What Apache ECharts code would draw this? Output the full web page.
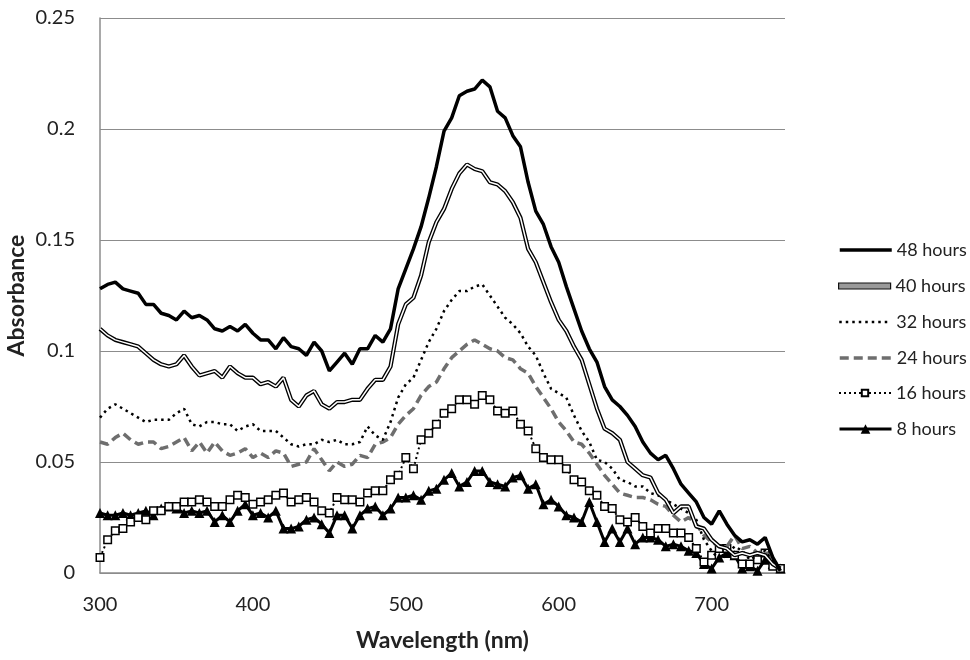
<!DOCTYPE html>
<html>
<head>
<meta charset="utf-8">
<script src="https://cdn.jsdelivr.net/npm/echarts@6/dist/echarts.min.js"></script>
<style>
html,body{margin:0;padding:0;background:#fff;}
#chart{width:970px;height:660px;}
</style>
</head>
<body>
<div id="chart"></div>
<script>
const wavelengths = [
  300,305,310,315,320,325,330,335,340,345,
  350,355,360,365,370,375,380,385,390,395,
  400,405,410,415,420,425,430,435,440,445,
  450,455,460,465,470,475,480,485,490,495,
  500,505,510,515,520,525,530,535,540,545,
  550,555,560,565,570,575,580,585,590,595,
  600,605,610,615,620,625,630,635,640,645,
  650,655,660,665,670,675,680,685,690,695,
  700,705,710,715,720,725,730,735,740,745
];
const seriesNames = ['48 hours','40 hours','32 hours','24 hours','16 hours','8 hours'];
const h48 = [
  0.128,0.130,0.131,0.128,0.127,0.126,0.121,0.121,0.117,0.116,
  0.114,0.118,0.115,0.116,0.114,0.110,0.109,0.111,0.109,0.112,
  0.108,0.105,0.105,0.101,0.106,0.102,0.101,0.098,0.104,0.100,
  0.091,0.095,0.099,0.094,0.101,0.101,0.107,0.104,0.110,0.128,
  0.137,0.146,0.156,0.169,0.183,0.199,0.205,0.215,0.217,0.218,
  0.222,0.219,0.208,0.205,0.197,0.192,0.176,0.163,0.157,0.147,
  0.140,0.129,0.119,0.109,0.101,0.095,0.084,0.078,0.075,0.071,
  0.066,0.059,0.054,0.051,0.053,0.047,0.040,0.036,0.032,0.025,
  0.022,0.028,0.022,0.017,0.014,0.015,0.013,0.016,0.007,0.001
];
const h40 = [
  0.110,0.107,0.105,0.104,0.103,0.102,0.099,0.096,0.094,0.093,
  0.094,0.098,0.093,0.089,0.090,0.091,0.088,0.093,0.090,0.088,
  0.088,0.085,0.086,0.084,0.088,0.078,0.075,0.080,0.082,0.076,
  0.074,0.077,0.077,0.078,0.078,0.083,0.087,0.087,0.093,0.112,
  0.121,0.124,0.134,0.149,0.158,0.164,0.173,0.180,0.184,0.182,
  0.181,0.176,0.175,0.172,0.167,0.160,0.146,0.140,0.131,0.122,
  0.114,0.109,0.102,0.096,0.085,0.074,0.065,0.063,0.060,0.050,
  0.047,0.044,0.043,0.036,0.033,0.027,0.030,0.030,0.021,0.020,
  0.015,0.012,0.011,0.008,0.009,0.008,0.009,0.008,0.004,0.002
];
const h32 = [
  0.070,0.074,0.076,0.074,0.072,0.070,0.068,0.069,0.069,0.069,
  0.072,0.074,0.067,0.066,0.068,0.068,0.067,0.067,0.064,0.066,
  0.067,0.064,0.064,0.064,0.061,0.058,0.057,0.058,0.058,0.060,
  0.059,0.060,0.058,0.058,0.059,0.066,0.062,0.060,0.068,0.079,
  0.085,0.088,0.096,0.104,0.110,0.118,0.123,0.127,0.127,0.129,
  0.130,0.125,0.120,0.115,0.112,0.108,0.102,0.098,0.090,0.083,
  0.081,0.079,0.071,0.064,0.059,0.051,0.050,0.047,0.042,0.041,
  0.039,0.039,0.036,0.035,0.033,0.031,0.029,0.027,0.024,0.015,
  0.010,0.006,0.008,0.012,0.010,0.006,0.008,0.010,0.005,0.002
];
const h24 = [
  0.059,0.058,0.061,0.063,0.060,0.058,0.059,0.059,0.056,0.057,
  0.059,0.061,0.055,0.059,0.054,0.059,0.055,0.053,0.054,0.056,
  0.052,0.054,0.052,0.055,0.054,0.048,0.049,0.050,0.056,0.051,
  0.046,0.050,0.048,0.049,0.053,0.052,0.058,0.059,0.061,0.067,
  0.071,0.074,0.080,0.084,0.086,0.092,0.097,0.100,0.103,0.105,
  0.103,0.101,0.100,0.097,0.096,0.092,0.090,0.084,0.079,0.074,
  0.068,0.064,0.059,0.058,0.054,0.049,0.044,0.040,0.036,0.035,
  0.034,0.034,0.033,0.031,0.030,0.026,0.023,0.025,0.022,0.017,
  0.014,0.012,0.012,0.017,0.011,0.012,0.009,0.010,0.005,0.001
];
const h16 = [
  0.007,0.015,0.019,0.020,0.023,0.025,0.024,0.028,0.028,0.030,
  0.030,0.032,0.032,0.033,0.032,0.030,0.030,0.033,0.035,0.034,
  0.031,0.032,0.033,0.035,0.036,0.032,0.033,0.034,0.032,0.028,
  0.027,0.034,0.033,0.033,0.032,0.036,0.037,0.037,0.042,0.044,
  0.052,0.047,0.060,0.063,0.067,0.072,0.074,0.078,0.078,0.076,
  0.080,0.078,0.073,0.072,0.073,0.067,0.064,0.056,0.052,0.051,
  0.051,0.047,0.042,0.041,0.037,0.035,0.030,0.029,0.024,0.023,
  0.025,0.021,0.018,0.020,0.020,0.018,0.018,0.016,0.011,0.005,
  0.008,0.011,0.011,0.008,0.004,0.004,0.006,0.009,0.003,0.002
];
const h8 = [
  0.027,0.026,0.026,0.027,0.026,0.027,0.028,0.026,0.029,0.030,
  0.029,0.027,0.028,0.027,0.028,0.023,0.026,0.023,0.028,0.031,
  0.026,0.027,0.025,0.028,0.020,0.020,0.021,0.024,0.025,0.022,
  0.018,0.026,0.026,0.020,0.026,0.029,0.030,0.026,0.029,0.034,
  0.034,0.035,0.033,0.037,0.038,0.042,0.045,0.039,0.041,0.046,
  0.046,0.041,0.040,0.039,0.043,0.044,0.038,0.040,0.031,0.033,
  0.030,0.026,0.025,0.023,0.032,0.023,0.014,0.020,0.014,0.020,
  0.013,0.016,0.016,0.015,0.012,0.013,0.012,0.010,0.009,0.004,
  0.002,0.007,0.009,0.008,0.002,0.003,0.001,0.006,0.004,0.002
];
const xTicks = [300,400,500,600,700];
const yTicks = ['0','0.05','0.1','0.15','0.2','0.25'];

const pairs = arr => wavelengths.map((w, i) => [w, arr[i]]);
const FONT = 'Lato, "Open Sans", sans-serif';
const CLEAR = 'rgba(0,0,0,0)';

const chart = echarts.init(document.getElementById('chart'), null, {renderer: 'canvas'});

const legendTops = [245, 281, 317, 353, 388, 424];
function mkLegend(i, extra) {
  return Object.assign({
    show: true,
    orient: 'vertical',
    left: 833,
    top: legendTops[i] - 11,
    itemWidth: 52,
    itemHeight: 12,
    itemGap: 0,
    selectedMode: false,
    textStyle: {fontFamily: FONT, fontSize: 18, color: '#222', lineHeight: 22},
    data: [seriesNames[i]]
  }, extra || {});
}

const option = {
  backgroundColor: '#fff',
  animation: false,
  grid: {left: 100, right: 185, top: 18, bottom: 87, containLabel: false, outerBoundsMode: 'none'},
  legend: [
    mkLegend(0, {lineStyle: {width: 3.5}}),
    mkLegend(1, {itemHeight: 6, data: [{name: seriesNames[1], icon: 'rect', itemStyle: {color: '#9a9a9a', borderColor: '#111', borderWidth: 1.2}}]}),
    mkLegend(2, {lineStyle: {width: 2.5}}),
    mkLegend(3, {lineStyle: {width: 3.5}}),
    mkLegend(4, {itemHeight: 8, lineStyle: {width: 2}}),
    mkLegend(5, {lineStyle: {width: 3}})
  ],
  xAxis: {
    type: 'value',
    min: 300,
    max: 748,
    interval: 100,
    name: 'Wavelength (nm)',
    nameLocation: 'middle',
    nameGap: 56,
    nameMoveOverlap: false,
    nameTextStyle: {fontFamily: FONT, fontSize: 23, fontWeight: 'bold', color: '#222'},
    axisLine: {show: true, lineStyle: {color: '#8c8c8c', width: 1.5}},
    axisTick: {show: false},
    splitLine: {show: false},
    axisLabel: {
      fontFamily: FONT, fontSize: 20, color: '#222', margin: 22,
      showMaxLabel: false,
      formatter: v => xTicks.indexOf(v) >= 0 ? String(v) : ''
    }
  },
  yAxis: {
    type: 'value',
    min: 0,
    max: 0.25,
    interval: 0.05,
    name: 'Absorbance',
    nameLocation: 'middle',
    nameGap: 72,
    nameMoveOverlap: false,
    nameRotate: 90,
    nameTextStyle: {fontFamily: FONT, fontSize: 23, fontWeight: 'bold', color: '#222'},
    axisLine: {show: true, lineStyle: {color: '#8c8c8c', width: 1.5}},
    axisTick: {show: false},
    splitLine: {show: true, lineStyle: {color: '#8c8c8c', width: 1.2}},
    axisLabel: {
      fontFamily: FONT, fontSize: 20, color: '#222', margin: 25,
      formatter: v => yTicks[Math.round(v / 0.05)]
    }
  },
  series: [
    {
      name: seriesNames[5], type: 'line', data: pairs(h8), z: 2,
      symbol: 'triangle', symbolSize: 10, showSymbol: true, showAllSymbol: true,
      itemStyle: {color: '#000'},
      lineStyle: {color: '#000', width: 3}
    },
    {
      name: seriesNames[4], type: 'line', data: pairs(h16), z: 3,
      symbol: 'rect', symbolSize: 7.5, showSymbol: true, showAllSymbol: true,
      itemStyle: {color: '#fff', borderColor: '#000', borderWidth: 1.5},
      lineStyle: {color: '#000', width: 2, type: [2, 3]}
    },
    {
      name: seriesNames[3], type: 'line', data: pairs(h24), z: 4,
      symbol: 'none', itemStyle: {color: CLEAR},
      lineStyle: {color: '#6e6e6e', width: 3.5, type: [9, 5]}
    },
    {
      name: seriesNames[2], type: 'line', data: pairs(h32), z: 5,
      symbol: 'none', itemStyle: {color: CLEAR},
      lineStyle: {color: '#000', width: 2.5, type: [2.5, 4]}
    },
    {
      name: seriesNames[1], type: 'line', data: pairs(h40), z: 6,
      symbol: 'none', itemStyle: {color: CLEAR},
      lineStyle: {color: '#000', width: 4.2}
    },
    {
      name: '40 hours inner', type: 'line', data: pairs(h40), z: 7,
      symbol: 'none', silent: true, itemStyle: {color: CLEAR},
      lineStyle: {color: '#fff', width: 1.5}
    },
    {
      name: seriesNames[0], type: 'line', data: pairs(h48), z: 8,
      symbol: 'none', itemStyle: {color: CLEAR},
      lineStyle: {color: '#000', width: 3.5}
    }
  ]
};
chart.setOption(option);
</script>
</body>
</html>
